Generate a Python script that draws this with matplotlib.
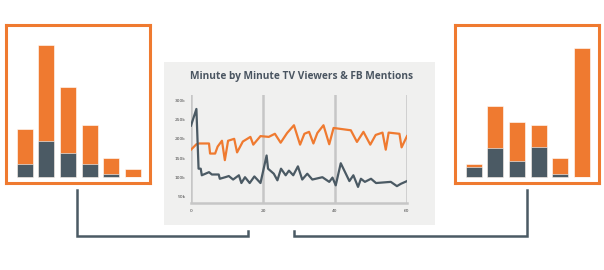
import numpy as np
import matplotlib
matplotlib.use("Agg")
import matplotlib.pyplot as plt
from matplotlib.patches import Rectangle
from matplotlib.lines import Line2D

W, H = 604, 270
ORANGE = "#ef7a30"
SLATE = "#4b5a64"
GRID = "#c6c6c6"
PANEL = "#f0f0ef"

# left bar chart (arbitrary units)
left_total = [48, 132, 90, 52, 19, 8]
left_dark = [13, 36, 24, 13, 3, 0]
# right bar chart
right_total = [13, 71, 55, 52, 19, 129]
right_dark = [10, 29, 16, 30, 3, 0]

# minute by minute lines (values in thousands)
fb_min = [0, 1.5, 2.3, 5.0, 5.3, 6.7, 7.4, 8.6, 9.4, 10.3, 12.0, 12.8, 14.4, 16.5,
          17.3, 19.3, 21.6, 23.3, 24.9, 26.7, 28.6, 30.3, 31.5, 32.8, 34.0, 35.1,
          36.8, 38.4, 39.6, 44.4, 46.1, 47.9, 49.8, 51.3, 53.2, 54.1, 54.9, 57.9,
          58.5, 60]
fb_val = [172, 186, 188, 188, 162, 162, 180, 195, 145, 195, 200, 165, 193, 205,
          185, 207, 205, 213, 190, 215, 235, 185, 213, 218, 188, 215,
          235, 186, 228, 222, 192, 218, 185, 210, 216, 172, 216, 213,
          178, 207]
tv_min = [0, 1.5, 2.1, 2.7, 3.0, 4.0, 5.0, 5.8, 7.7, 8.0, 9.5, 10.5, 11.7, 13.3,
          14.0, 15.0, 16.3, 17.6, 19.3, 21.0, 21.4, 23.0, 24.0, 25.0, 26.3, 27.2,
          28.4, 29.7, 30.9, 32.3, 33.7, 36.5, 38.4, 39.3, 40.2, 41.6, 44.0, 45.1,
          46.4, 47.2, 48.3, 50.0, 51.4, 55.5, 57.2, 58.3, 60]
tv_val = [234, 277, 123, 123, 106, 110, 114, 108, 108, 97, 101, 104, 95, 106,
          86, 101, 86, 103, 86, 157, 123, 110, 93, 123, 106, 118,
          106, 129, 95, 110, 95, 101, 89, 100, 80, 137, 91, 106,
          76, 97, 89, 97, 86, 89, 78, 84, 91]
yticks = [50, 100, 150, 200, 250, 300]
xticks = [0, 20, 40, 60]


def box(x0, y0, x1, y1):
    # pixel box (top-left origin) -> figure fraction rect
    return [x0 / W, (H - y1) / H, (x1 - x0) / W, (y1 - y0) / H]


fig = plt.figure(figsize=(W / 100, H / 100), dpi=100)
fig.patch.set_facecolor("white")


def bar_panel(rect, total, dark):
    ax = fig.add_axes(rect)
    x = np.arange(len(total))
    ax.bar(x, total, width=0.74, color=ORANGE, edgecolor="white", linewidth=0.4)
    ax.bar(x, dark, width=0.74, color=SLATE, edgecolor="white", linewidth=0.4)
    ax.set_xlim(-0.86, 5.79)
    ax.set_ylim(-6, 152)
    ax.set_xticks([])
    ax.set_yticks([])
    for s in ax.spines.values():
        s.set_color(ORANGE)
        s.set_linewidth(2.2)
    return ax


bar_panel(box(6, 25, 150, 183), left_total, left_dark)
bar_panel(box(455, 25, 599, 183), right_total, right_dark)

# grey panel behind the line chart
bg = fig.add_axes(box(164, 62, 435, 225), zorder=0)
bg.set_facecolor(PANEL)
bg.set_xticks([])
bg.set_yticks([])
for s in bg.spines.values():
    s.set_visible(False)

fig.text(302 / W, (H - 77) / H, "Minute by Minute TV Viewers & FB Mentions",
         ha="center", va="center", fontsize=7.3, fontweight="bold",
         color="#4a5561", family="Open Sans", zorder=5)

ax = fig.add_axes(box(191, 95, 407, 203), zorder=2)
ax.set_facecolor("none")
for xv in xticks:
    ax.axvline(xv, color=GRID, linewidth=1.8, zorder=1)
ax.plot(fb_min, fb_val, color=ORANGE, linewidth=1.6, zorder=3)
ax.plot(tv_min, tv_val, color=SLATE, linewidth=1.6, zorder=3)
ax.set_xlim(0, 60)
ax.set_ylim(34.5, 313)
for k in ["top", "left", "right"]:
    ax.spines[k].set_visible(False)
ax.spines["bottom"].set_color(GRID)
ax.spines["bottom"].set_linewidth(1.8)
ax.set_xticks(xticks)
ax.set_xticklabels([str(v) for v in xticks])
ax.set_yticks(yticks)
ax.set_yticklabels([f"{v}k" for v in yticks])
ax.tick_params(length=0, labelsize=3.2, colors="#444444", pad=4)

# connector brackets
lw = 1.8
def bracket(xs, ys):
    fig.add_artist(Line2D([v / W for v in xs], [(H - v) / H for v in ys],
                          color=SLATE, linewidth=lw, solid_joinstyle="miter"))

bracket([77, 77, 248, 248], [190, 236, 236, 231])
bracket([294, 294, 527, 527], [231, 236, 236, 190])

fig.savefig("out.png", dpi=100)
